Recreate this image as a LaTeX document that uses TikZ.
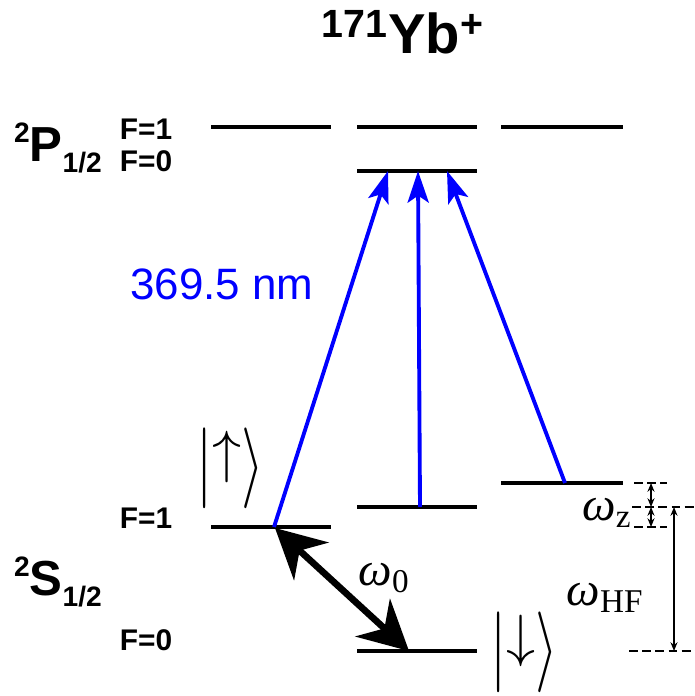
\documentclass[tikz,border=0pt]{standalone}
\usepackage{graphicx}
\usepackage{fontspec}
\setmainfont{Liberation Sans}
\newfontfamily\timesfont{Liberation Serif}
\usetikzlibrary{positioning,arrows.meta}

\newcommand{\termname}[2]{\raisebox{11pt}{\fontsize{16}{18}\selectfont 2}#1\raisebox{-6pt}{\fontsize{16}{18}\selectfont #2}}
\newcommand{\spinket}[1]{\scalebox{1.33}{\Huge\scalebox{1}[1.39]{$|$}\raisebox{7pt}{$#1$}\scalebox{1}[1.39]{$\rangle$}}}

\begin{document}
\begin{tikzpicture}[x=0.02cm,y=-0.02cm,
    level/.style={line width=2.2pt},
    laser/.style={draw=blue, line width=2.2pt,
        -{Stealth[length=18pt,width=12pt,inset=4pt]}},
    qubit/.style={line width=3.8pt,
        {Stealth[length=28pt,width=29pt,inset=9pt]}-{Stealth[length=28pt,width=29pt,inset=9pt]}},
    marker/.style={line width=1.3pt, dash pattern=on 5pt off 2.5pt},
    gap/.style={line width=0.7pt, {Stealth[length=5pt,width=4pt]}-{Stealth[length=5pt,width=4pt]}},
    flabel/.style={font=\bfseries\fontsize{17}{19}\selectfont},
    term/.style={font=\bfseries\fontsize{28}{32}\selectfont, inner sep=0pt},
    ket/.style={inner sep=0pt},
    omega/.style={font=\timesfont\fontsize{27}{30}\selectfont, inner sep=0pt}
]
\useasboundingbox (0,0) rectangle (695,696);

% title
\node[font=\bfseries\fontsize{32}{36}\selectfont] (title) at (403,32)
    {\textsuperscript{171}Yb\textsuperscript{+}};

% 2P_{1/2} levels
\draw[level] (211,127) coordinate (pa) -- (331,127) coordinate (pb);
\draw[level] (357,127) coordinate (pc) -- (477,127) coordinate (pd);
\draw[level] (501,127) coordinate (pe) -- (623,127) coordinate (pf);
\draw[level] (357,171) coordinate (p0a) -- (477,171) coordinate (p0b);

% 2S_{1/2} levels
\draw[level] (211,527) coordinate (sa) -- (331,527) coordinate (sb);
\draw[level] (357,507) coordinate (sc) -- (477,507) coordinate (sd);
\draw[level] (501,483) coordinate (se) -- (623,483) coordinate (sf);
\draw[level] (357,651) coordinate (s0a) -- (477,651) coordinate (s0b);

% term labels
\node[term] (pterm) at (58,148) {\termname{P}{1/2}};
\node[term] (sterm) at (58,582) {\termname{S}{1/2}};
\node[flabel] (pf1) at (146,129) {F=1};
\node[flabel] (pf0) at (146,161) {F=0};
\node[flabel] (sf1) at (146,518) {F=1};
\node[flabel] (sf0) at (146,640) {F=0};

% 369.5 nm transitions
\coordinate (uL) at (274,527);
\coordinate (uM) at (420,507);
\coordinate (uR) at (565,483);
\coordinate (tL) at (388,171);
\coordinate (tM) at (418,171);
\coordinate (tR) at (447,171);
\draw[laser] (uL) -- (tL);
\draw[laser] (uM) -- (tM);
\draw[laser] (uR) -- (tR);
\node[blue, font=\fontsize{25}{29}\selectfont] (wl) at (222,284) {369.5 nm};

% qubit transition
\coordinate (up) at (275,528);
\coordinate (dn) at (409,651);
\draw[qubit] (up) -- (dn);
\node[omega] (w0) at (384,578) {\textit{ω}\textsubscript{0}};

% kets
\node[ket] (ketup) at (230,468) {\spinket{\uparrow}};
\node[ket] (ketdn) at (524,652) {\spinket{\downarrow}};

% splittings
\draw[marker] (634,483) coordinate (m1a) -- (667,483) coordinate (m1b);
\draw[marker] (632,507) coordinate (m2a) -- (695,507) coordinate (m2b);
\draw[marker] (634,527) coordinate (m3a) -- (667,527) coordinate (m3b);
\draw[marker] (629,651) coordinate (m4a) -- (695,651) coordinate (m4b);
\draw[gap] (651,483) -- (651,507);
\draw[gap] (651,507) -- (651,527);
\draw[gap] (674,507) -- (674,651);
\node[omega] (wz) at (607,513) {\textit{ω}\textsubscript{z}};
\node[omega] (whf) at (605,598) {\textit{ω}\textsubscript{HF}};
\end{tikzpicture}
\end{document}
